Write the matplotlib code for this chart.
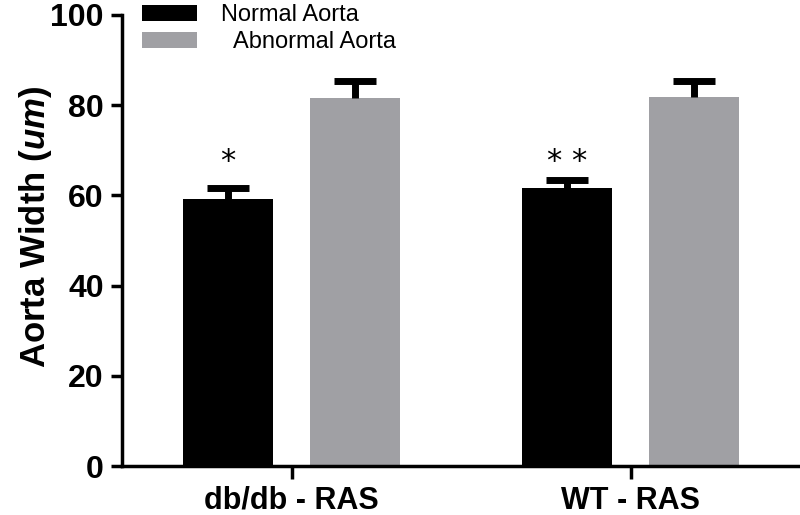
import matplotlib
matplotlib.use("Agg")
import matplotlib.pyplot as plt
import numpy as np

groups = ["db/db - RAS", "WT - RAS"]
series = ["Normal Aorta", "  Abnormal Aorta"]
normal = [59.2, 61.6]
normal_err = [2.4, 1.8]
abnormal = [81.6, 81.8]
abnormal_err = [3.7, 3.5]
stars = ["*", "* *"]

plt.rcParams['font.family'] = ['Liberation Sans', 'DejaVu Sans']
plt.rcParams['mathtext.fontset'] = 'custom'
plt.rcParams['mathtext.it'] = 'Liberation Sans:italic:bold'
plt.rcParams['mathtext.rm'] = 'Liberation Sans:bold'

fig = plt.figure(figsize=(8, 5.15), dpi=100)
ax = fig.add_axes([0.1525, 0.095, 0.8475, 0.876])

x = np.arange(len(groups))
w = 0.267
off = 0.188
cap = 0.0625  # half width of error cap, in group units

ax.bar(x - off, normal, w, color='black', label=series[0])
ax.bar(x + off, abnormal, w, color='#a0a0a4', label=series[1])

# upper-only error bars
for pos, vals, errs in [(x - off, normal, normal_err), (x + off, abnormal, abnormal_err)]:
    tops = np.array(vals) + np.array(errs)
    ax.vlines(pos, vals, tops, color='black', lw=5)
    ax.hlines(tops, pos - cap, pos + cap, color='black', lw=5)

for xi, s in zip(x - off, stars):
    ax.text(xi, 67.5, s, ha='center', va='center', fontsize=22, family='DejaVu Sans')

ax.set_xlim(-0.5, 1.5)
ax.set_ylim(0, 100)
ax.set_yticks([0, 20, 40, 60, 80, 100])
ax.set_xticks(x)
ax.set_xticklabels(groups, fontsize=22, fontweight='bold')
ax.tick_params(axis='y', labelsize=23, width=2.5, length=8, pad=5)
ax.tick_params(axis='x', width=2.5, length=9, pad=5)
for lab in ax.get_yticklabels():
    lab.set_fontweight('bold')

ax.set_ylabel(r'Aorta Width ($\mathit{um}$)', fontsize=25, fontweight='bold')
ax.yaxis.set_label_coords(-0.1, 0.53)

for sp in ['top', 'right']:
    ax.spines[sp].set_visible(False)
for sp in ['left', 'bottom']:
    ax.spines[sp].set_linewidth(2.5)

fig.legend(*ax.get_legend_handles_labels(), loc='upper left',
           bbox_to_anchor=(142 / 800, 1 - 4 / 515), frameon=False,
           fontsize=17, handlelength=2.35, handleheight=0.65, handletextpad=1.0,
           labelspacing=0.22, borderpad=0, borderaxespad=0)

plt.savefig('out.png', dpi=100)
plt.close()
